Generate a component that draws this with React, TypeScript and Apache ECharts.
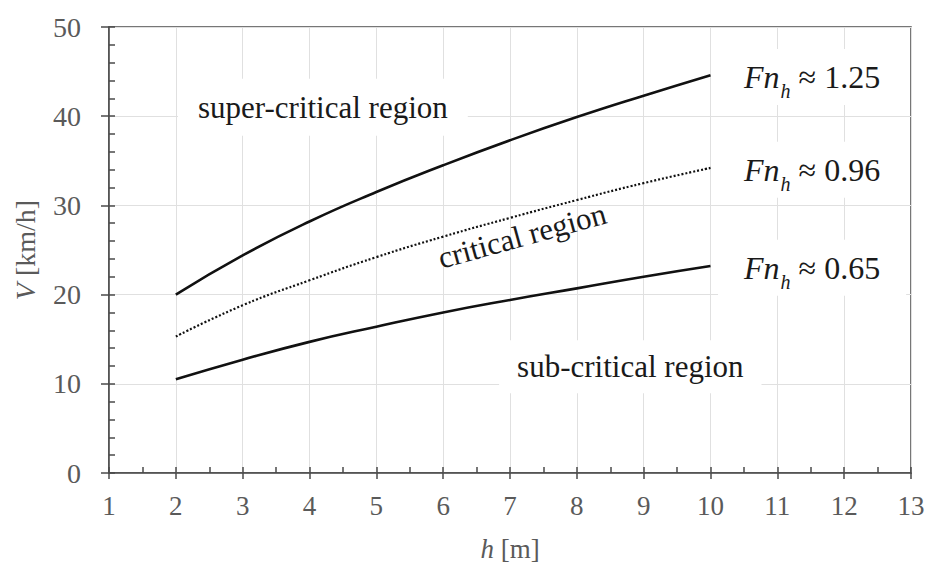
import React, { useEffect, useRef } from "react";
import * as echarts from "echarts";

const depths = [2, 3, 4, 5, 6, 7, 8, 9, 10];
const vHigh = [20.0, 24.4, 28.2, 31.5, 34.5, 37.3, 39.9, 42.3, 44.6];
const vMid = [15.3, 18.8, 21.6, 24.2, 26.5, 28.6, 30.6, 32.5, 34.2];
const vLow = [10.5, 12.7, 14.7, 16.4, 18.0, 19.4, 20.7, 22.0, 23.2];
const froudeLabels = ["1.25", "0.96", "0.65"];

const FONT = "'Liberation Serif', 'Times New Roman', serif";
const AXIS_COLOR = "#4a4a4a";
const LABEL_COLOR = "#5a5a5a";

export default function App() {
  const ref = useRef<HTMLDivElement>(null);
  useEffect(() => {
    document.body.style.margin = "0";
    const chart = echarts.init(ref.current!, null, { renderer: "svg" });
    const xBase = {
      type: "value",
      min: 1,
      max: 13,
      interval: 1,
      position: "bottom",
    };
    const yBase = {
      type: "value",
      min: 0,
      max: 50,
      interval: 10,
      position: "left",
    };
    chart.setOption({
      animation: false,
      grid: {
        left: 109,
        right: 17,
        top: 27,
        bottom: 95,
        show: true,
        borderColor: AXIS_COLOR,
        borderWidth: 1.5,
      },
      xAxis: [
        {
          ...xBase,
          name: "{i|h} [m]",
          nameLocation: "middle",
          nameGap: 62,
          nameTextStyle: {
            color: LABEL_COLOR,
            fontSize: 27,
            fontFamily: FONT,
            rich: {
              i: { fontStyle: "italic", fontSize: 27, fontFamily: FONT, color: LABEL_COLOR },
            },
          },
          axisLine: { show: true, lineStyle: { color: AXIS_COLOR, width: 1.5 } },
          axisTick: { show: true, inside: true, length: 6, lineStyle: { color: AXIS_COLOR, width: 1.5 } },
          minorTick: { show: true, splitNumber: 2, length: 6, lineStyle: { color: AXIS_COLOR, width: 1.5 } },
          axisLabel: { color: LABEL_COLOR, fontSize: 27, fontFamily: FONT, margin: 19 },
          splitLine: { show: true, lineStyle: { color: "#e0e0e0", width: 1 } },
        },
        {
          ...xBase,
          axisLine: { show: false },
          axisTick: { show: true, inside: false, length: 6, lineStyle: { color: AXIS_COLOR, width: 1.5 } },
          axisLabel: { show: false },
          splitLine: { show: false },
        },
      ],
      yAxis: [
        {
          ...yBase,
          name: "{i|V} [km/h]",
          nameLocation: "middle",
          nameGap: 70,
          nameRotate: 90,
          nameTextStyle: {
            color: LABEL_COLOR,
            fontSize: 28,
            fontFamily: FONT,
            rich: {
              i: { fontStyle: "italic", fontSize: 28, fontFamily: FONT, color: LABEL_COLOR },
            },
          },
          axisLine: { show: true, lineStyle: { color: AXIS_COLOR, width: 1.5 } },
          axisTick: { show: true, inside: true, length: 6, lineStyle: { color: AXIS_COLOR, width: 1.5 } },
          minorTick: { show: true, splitNumber: 5, length: 6, lineStyle: { color: AXIS_COLOR, width: 1.5 } },
          axisLabel: { color: LABEL_COLOR, fontSize: 28, fontFamily: FONT, margin: 28 },
          splitLine: { show: true, lineStyle: { color: "#e0e0e0", width: 1 } },
        },
        {
          ...yBase,
          axisLine: { show: false },
          axisTick: { show: true, inside: false, length: 8, lineStyle: { color: AXIS_COLOR, width: 1.5 } },
          axisLabel: { show: false },
          splitLine: { show: false },
        },
      ],
      series: [
        {
          type: "line",
          data: depths.map((h, i) => [h, vHigh[i]]),
          smooth: true,
          showSymbol: false,
          lineStyle: { color: "#111", width: 2.6 },
        },
        {
          type: "line",
          data: depths.map((h, i) => [h, vMid[i]]),
          smooth: true,
          showSymbol: false,
          lineStyle: { color: "#111", width: 2.2, type: [2, 2] },
        },
        {
          type: "line",
          data: depths.map((h, i) => [h, vLow[i]]),
          smooth: true,
          showSymbol: false,
          lineStyle: { color: "#111", width: 2.6 },
        },
      ],
    });

    const px = (x: number, y: number) => chart.convertToPixel({ gridIndex: 0 }, [x, y]);
    const last = depths.length - 1;
    const ends = [vHigh[last], vMid[last], vLow[last]];
    const regionText = (pos: number[], text: string, pad: number[], bg: boolean, rotation = 0) => ({
      type: "text",
      x: pos[0],
      y: pos[1],
      rotation,
      z: 100,
      style: {
        text,
        align: "center",
        verticalAlign: "middle",
        fontSize: 31,
        fontFamily: FONT,
        fill: "#1a1a1a",
        backgroundColor: bg ? "#fff" : undefined,
        padding: pad,
      },
    });
    const fnLabel = (pos: number[], value: string) => ({
      type: "text",
      x: pos[0],
      y: pos[1],
      z: 100,
      style: {
        text: `{i|Fn}{s|h}{n| ≈ ${value}}`,
        align: "center",
        verticalAlign: "middle",
        backgroundColor: "#fff",
        padding: [12, 26, 8, 26],
        rich: {
          i: { fontStyle: "italic", fontSize: 32, fontFamily: FONT, fill: "#1a1a1a", verticalAlign: "top", lineHeight: 36 },
          s: { fontStyle: "italic", fontSize: 20, fontFamily: FONT, fill: "#1a1a1a", verticalAlign: "top", lineHeight: 22, padding: [20, 0, 0, 1] },
          n: { fontSize: 32, fontFamily: FONT, fill: "#1a1a1a", verticalAlign: "top", lineHeight: 36 },
        },
      },
    });
    chart.setOption({
      graphic: [
        regionText(px(4.2, 41.0), "super-critical region", [14, 20, 12, 20], true),
        regionText(px(7.18, 26.6), "critical region", [0, 0, 0, 0], false, (15.4 * Math.PI) / 180),
        regionText(px(8.8, 11.9), "sub-critical region", [12, 18, 10, 18], true),
        ...ends.map((v, i) => fnLabel(px(11.52, v - 0.2), froudeLabels[i])),
      ],
    });
    return () => chart.dispose();
  }, []);
  return <div ref={ref} style={{ width: 928, height: 568 }} />;
}
